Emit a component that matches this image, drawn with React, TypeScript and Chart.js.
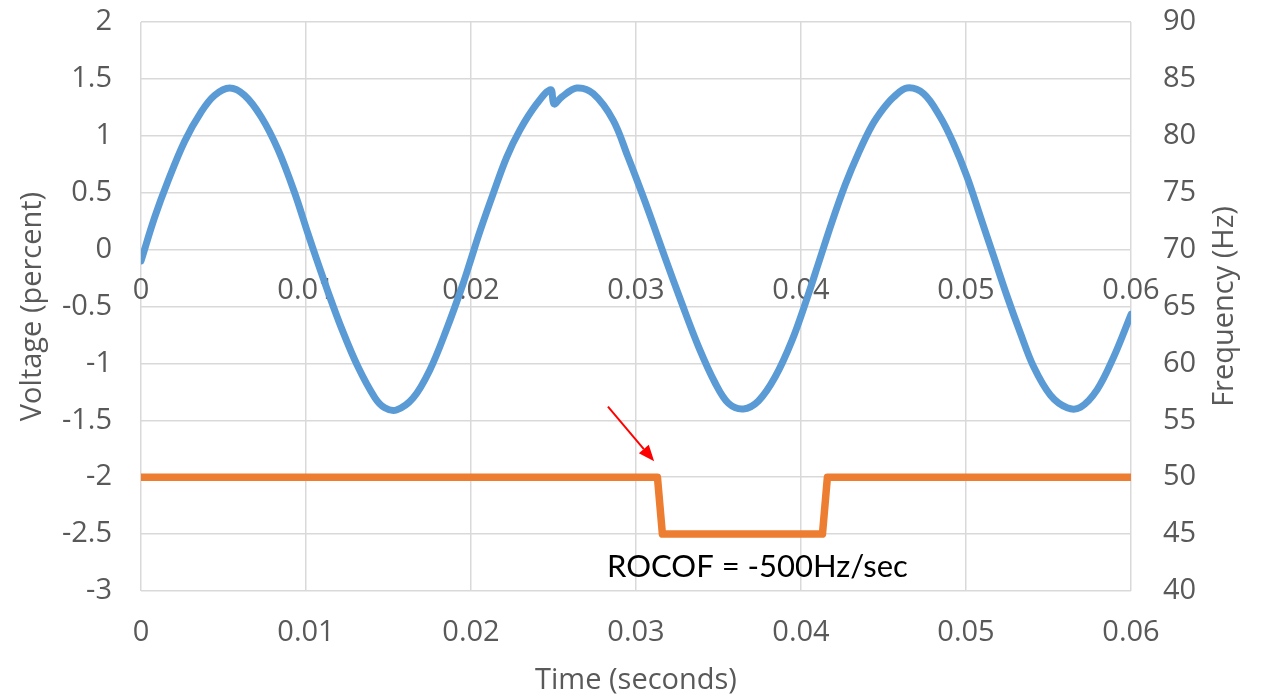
import React, { useEffect, useRef } from 'react';
import { Chart, registerables } from 'chart.js';

Chart.register(...registerables);

// Voltage trace (percent)
const timeS = [
  0, 0.00082, 0.00163, 0.00264, 0.00365, 0.00446, 0.00537, 0.00628, 0.00729, 0.0083,
  0.00931, 0.01012, 0.01063, 0.01133, 0.01215, 0.01315, 0.01417, 0.01477, 0.01548, 0.01649,
  0.0175, 0.01852, 0.01952, 0.02003, 0.02054, 0.02134, 0.02216, 0.02296, 0.02398, 0.02483,
  0.02503, 0.02549, 0.0264, 0.02741, 0.02862, 0.0295, 0.03055, 0.03176, 0.03277, 0.03378,
  0.03479, 0.0356, 0.03651, 0.03742, 0.03843, 0.03945, 0.04036, 0.04106, 0.04187, 0.04268,
  0.04349, 0.0443, 0.045, 0.04561, 0.04642, 0.04743, 0.04844, 0.04925, 0.05006, 0.05087,
  0.05168, 0.05249, 0.0533, 0.0541, 0.05512, 0.05613, 0.05694, 0.05795, 0.05896, 0.06,
];
const voltagePct = [
  -0.1, 0.28, 0.6, 0.95, 1.21, 1.355, 1.42, 1.355, 1.165, 0.88,
  0.5, 0.14, -0.08, -0.37, -0.69, -1.03, -1.3, -1.39, -1.41, -1.305,
  -1.06, -0.7, -0.3, -0.07, 0.16, 0.49, 0.81, 1.05, 1.28, 1.405,
  1.28, 1.34, 1.42, 1.37, 1.136, 0.82, 0.42, -0.07, -0.47, -0.85,
  -1.17, -1.35, -1.4, -1.33, -1.12, -0.8, -0.43, -0.12, 0.24, 0.57,
  0.85, 1.09, 1.24, 1.34, 1.42, 1.37, 1.165, 0.93, 0.64, 0.29,
  -0.06, -0.41, -0.735, -1.03, -1.28, -1.39, -1.385, -1.23, -0.94, -0.57,
];

// Frequency trace (Hz)
const freqTime = [0, 0.0313, 0.0316, 0.0413, 0.0416, 0.06];
const freqHz = [50, 50, 45, 45, 50, 50];

// Tick labels
const xTickLabels = ['0', '0.01', '0.02', '0.03', '0.04', '0.05', '0.06'];
const leftTickLabels = ['-3', '-2.5', '-2', '-1.5', '-1', '-0.5', '0', '0.5', '1', '1.5', '2'];
const rightTickLabels = ['40', '45', '50', '55', '60', '65', '70', '75', '80', '85', '90'];

// Annotation (data coordinates: time, voltage)
const annotationText = 'ROCOF = -500Hz/sec';
const annotationAt = [0.03736, -2.785];
const arrowFrom = [0.0283, -1.38];
const arrowTo = [0.0311, -1.86];

const xTitle = 'Time (seconds)';
const leftTitle = 'Voltage (percent)';
const rightTitle = 'Frequency (Hz)';

const FONT = "'Open Sans', sans-serif";
const GREY = '#595959';
const GRID = '#d9d9d9';

const annotationPlugin = {
  id: 'annot',
  afterDatasetsDraw(chart: any) {
    const { ctx, scales } = chart;
    const xs = scales.x;
    const ys = scales.y;
    ctx.save();
    const x1 = xs.getPixelForValue(arrowFrom[0]);
    const y1 = ys.getPixelForValue(arrowFrom[1]);
    const x2 = xs.getPixelForValue(arrowTo[0]);
    const y2 = ys.getPixelForValue(arrowTo[1]);
    const ang = Math.atan2(y2 - y1, x2 - x1);
    const head = 16;
    const hw = 6.5;
    const bx = x2 - head * Math.cos(ang);
    const by = y2 - head * Math.sin(ang);
    ctx.strokeStyle = '#ff0000';
    ctx.fillStyle = '#ff0000';
    ctx.lineWidth = 2;
    ctx.beginPath();
    ctx.moveTo(x1, y1);
    ctx.lineTo(bx, by);
    ctx.stroke();
    ctx.beginPath();
    ctx.moveTo(x2, y2);
    ctx.lineTo(bx + hw * Math.sin(ang), by - hw * Math.cos(ang));
    ctx.lineTo(bx - hw * Math.sin(ang), by + hw * Math.cos(ang));
    ctx.closePath();
    ctx.fill();
    ctx.fillStyle = '#000000';
    ctx.font = '31px Lato, sans-serif';
    ctx.textAlign = 'center';
    ctx.textBaseline = 'middle';
    ctx.fillText(annotationText, xs.getPixelForValue(annotationAt[0]), ys.getPixelForValue(annotationAt[1]));
    ctx.restore();
  },
  afterDraw(chart: any) {
    const { ctx, chartArea } = chart;
    const s = chart.scales.y1;
    ctx.save();
    ctx.translate(s.right - 36, (chartArea.top + chartArea.bottom) / 2);
    ctx.rotate(-Math.PI / 2);
    ctx.fillStyle = GREY;
    ctx.font = `29px ${FONT}`;
    ctx.textAlign = 'center';
    ctx.textBaseline = 'middle';
    ctx.fillText(rightTitle, 0, 0);
    ctx.restore();
  },
};

export default function App() {
  const ref = useRef<HTMLCanvasElement>(null);
  useEffect(() => {
    document.body.style.margin = '0';
    const canvas = ref.current;
    if (!canvas) return;
    const tickFont = { family: FONT, size: 29 };
    const chart = new Chart(canvas, {
      type: 'line',
      data: {
        datasets: [
          {
            label: 'Voltage',
            data: timeS.map((t, i) => ({ x: t, y: voltagePct[i] })),
            borderColor: '#5b9bd5',
            borderWidth: 7,
            pointRadius: 0,
            tension: 0.35,
            xAxisID: 'x',
            yAxisID: 'y',
            borderJoinStyle: 'round',
            borderCapStyle: 'round',
          },
          {
            label: 'Frequency',
            data: freqTime.map((t, i) => ({ x: t, y: freqHz[i] })),
            borderColor: '#ed7d31',
            borderWidth: 7.5,
            pointRadius: 0,
            tension: 0,
            xAxisID: 'x',
            yAxisID: 'y1',
            borderJoinStyle: 'round',
          },
        ],
      },
      options: {
        animation: false,
        responsive: false,
        devicePixelRatio: 1,
        layout: { padding: { top: 22, left: 0, right: 0, bottom: 0 } },
        plugins: { legend: { display: false }, tooltip: { enabled: false } },
        scales: {
          x: {
            type: 'linear',
            position: 'bottom',
            min: 0,
            max: 0.06,
            border: { display: false },
            grid: { color: GRID, lineWidth: 1.5, drawTicks: false },
            ticks: {
              stepSize: 0.01,
              color: GREY,
              font: tickFont,
              padding: 24,
              maxRotation: 0,
              callback: (_v: any, i: number) => xTickLabels[i],
            },
            title: {
              display: true,
              text: xTitle,
              color: GREY,
              font: { family: FONT, size: 29, lineHeight: 1 },
              padding: { top: 0, bottom: 0 },
            },
            afterFit: (s: any) => { s.height = 104; },
          },
          x2: {
            type: 'linear',
            position: { y: 0 },
            min: 0,
            max: 0.06,
            z: 1,
            border: { display: false },
            grid: { display: false, drawTicks: false },
            ticks: {
              stepSize: 0.01,
              color: GREY,
              font: tickFont,
              padding: 24,
              maxRotation: 0,
              callback: (_v: any, i: number) => xTickLabels[i],
            },
          },
          y: {
            type: 'linear',
            position: 'left',
            min: -3,
            max: 2,
            border: { display: false },
            grid: { color: GRID, lineWidth: 1.5, drawTicks: false },
            ticks: {
              stepSize: 0.5,
              color: GREY,
              font: tickFont,
              padding: 29,
              callback: (_v: any, i: number) => leftTickLabels[i],
            },
            title: {
              display: true,
              text: leftTitle,
              color: GREY,
              font: { family: FONT, size: 29, lineHeight: 1.2 },
              padding: { top: 15, bottom: 0 },
            },
            afterFit: (s: any) => { s.width = 141; s.paddingTop = 0; s.paddingBottom = 0; },
          },
          y1: {
            type: 'linear',
            position: 'right',
            min: 40,
            max: 90,
            border: { display: false },
            grid: { display: false, drawTicks: false },
            ticks: {
              stepSize: 5,
              color: GREY,
              font: tickFont,
              padding: 32,
              callback: (_v: any, i: number) => rightTickLabels[i],
            },
            afterFit: (s: any) => { s.width = 130; s.paddingTop = 0; s.paddingBottom = 0; },
          },
        },
      },
      plugins: [annotationPlugin],
    } as any);
    return () => chart.destroy();
  }, []);
  return (
    <div style={{ width: 1261, height: 695 }}>
      <canvas ref={ref} width={1261} height={695} style={{ display: 'block' }} />
    </div>
  );
}
